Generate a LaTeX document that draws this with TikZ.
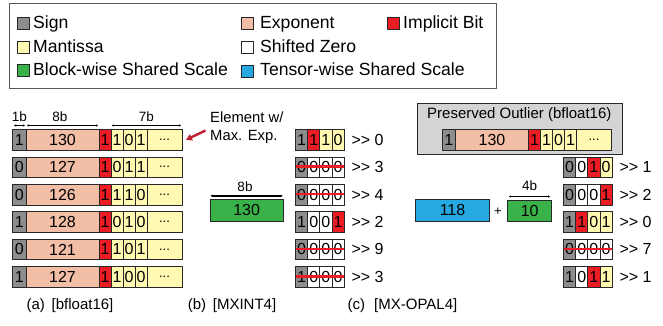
\documentclass[tikz,border=0pt]{standalone}
\usepackage{fontspec}
\setmainfont{Liberation Sans}
\usetikzlibrary{arrows.meta}
\definecolor{cSign}{RGB}{141,141,144}
\definecolor{cExp}{RGB}{243,190,166}
\definecolor{cImp}{RGB}{236,28,36}
\definecolor{cMan}{RGB}{255,249,178}
\definecolor{cGreen}{RGB}{58,178,74}
\definecolor{cBlue}{RGB}{38,168,224}
\definecolor{cOut}{RGB}{211,212,214}
\definecolor{cArrow}{RGB}{190,30,45}
\definecolor{cLine}{RGB}{40,38,38}
\newcommand\myfs[1]{\fontsize{#1}{#1}\selectfont}
\newcommand\gtgt{>\kern0pt>}
% full bfloat16 row: name, x, y, sign, exponent, m1, m2, m3
\newcommand\fprow[8]{%
  \node[cell,fill=cSign,minimum width=13.5pt] (#1-s) at (#2,#3) {#4};
  \node[cell,fill=cExp,minimum width=73pt] (#1-e) at ({#2+13.5},#3) {#5};
  \node[cell,fill=cImp,minimum width=12pt] (#1-i) at ({#2+86.5},#3) {1};
  \node[cell,fill=cMan,minimum width=12pt] (#1-m1) at ({#2+98.5},#3) {#6};
  \node[cell,fill=cMan,minimum width=12pt] (#1-m2) at ({#2+110.5},#3) {#7};
  \node[cell,fill=cMan,minimum width=12pt] (#1-m3) at ({#2+122.5},#3) {#8};
  \node[cell,fill=cMan,minimum width=35pt,font=\myfs{13}] (#1-d) at ({#2+134.5},#3) {...};
}
% 4-bit row: name, x, y, four colour/digit pairs, shift
\newcommand\qrow[8]{%
  \foreach \cl/\dg [count=\k from 0] in {#4,#5,#6,#7}{%
    \node[cell,fill=\cl,minimum width=12.15pt] (#1-\k) at ({#2+12.15*\k},#3) {\dg};}
  \node[shtxt] (#1-t) at ({#2+55.8},{#3+10.35}) {\gtgt\ #8};
}
\begin{document}
\begin{tikzpicture}[x=1pt,y=-1pt,
  cell/.style={draw=cLine,line width=0.7pt,inner sep=0pt,outer sep=0pt,minimum height=20.7pt,anchor=north west,font=\myfs{16}},
  lsq/.style={draw=cLine,line width=0.6pt,minimum width=11.5pt,minimum height=11.5pt,inner sep=0pt,anchor=north west},
  ltxt/.style={anchor=base west,inner sep=0pt,font=\myfs{17.6}},
  btxt/.style={anchor=base,inner sep=0pt,font=\myfs{13.5}},
  shtxt/.style={anchor=west,inner sep=0pt,font=\myfs{16}},
  captxt/.style={anchor=base,inner sep=0pt,font=\myfs{15}},
  brk/.style={line width=1.7pt,{Latex[length=2pt,width=2.4pt]}-{Latex[length=2pt,width=2.4pt]}},
  strike/.style={draw=cImp,line width=2.6pt},
]
\useasboundingbox (0,0) rectangle (663,326);

% ---------- legend ----------
\node[draw=black!65,line width=0.8pt,minimum width=487pt,minimum height=84.4pt,anchor=north west,inner sep=0pt] (legend) at (9,3.3) {};
\node[lsq,fill=cSign] (lsq1) at (17.3,17.3) {};
\node[ltxt] (lt1) at (33,28.3) {Sign};
\node[lsq,fill=cMan] (lsq2) at (17.3,41.3) {};
\node[ltxt] (lt2) at (33,52.8) {Mantissa};
\node[lsq,fill=cGreen] (lsq3) at (17.3,64.5) {};
\node[ltxt] (lt3) at (33,75.5) {Block-wise Shared Scale};
\node[lsq,fill=cExp] (lsq4) at (241,17.3) {};
\node[ltxt] (lt4) at (260,28.3) {Exponent};
\node[lsq,fill=white] (lsq5) at (241,41.3) {};
\node[ltxt] (lt5) at (260,52.8) {Shifted Zero};
\node[lsq,fill=cBlue] (lsq6) at (241,65.5) {};
\node[ltxt] (lt6) at (260,75.5) {Tensor-wise Shared Scale};
\node[lsq,fill=cImp] (lsq7) at (387.3,17.3) {};
\node[ltxt] (lt7) at (403,28.3) {Implicit Bit};

% ---------- (a) bfloat16 ----------
\fprow{a1}{12.5}{129.5}{1}{130}{1}{0}{1}
\fprow{a2}{12.5}{156.9}{0}{127}{0}{1}{1}
\fprow{a3}{12.5}{184.3}{0}{126}{1}{1}{0}
\fprow{a4}{12.5}{211.7}{1}{128}{0}{1}{0}
\fprow{a5}{12.5}{239.1}{0}{121}{1}{0}{1}
\fprow{a6}{12.5}{266.5}{1}{127}{1}{0}{0}
\draw[brk] ([xshift=1.5pt,yshift=4pt]a1-s.north west) -- ([xshift=-1pt,yshift=4pt]a1-s.north east);
\draw[brk] ([xshift=1pt,yshift=4pt]a1-e.north west) -- ([xshift=-1pt,yshift=4pt]a1-e.north east);
\draw[brk] ([xshift=0.7pt,yshift=4pt]a1-m1.north west) -- ([xshift=-1pt,yshift=4pt]a1-d.north east);
\node[btxt] (l1b) at (19.5,121.5) {1b};
\node[btxt] (l8b) at (60,121.5) {8b};
\node[btxt] (l7b) at (146.5,121.5) {7b};
\node[anchor=base west,inner sep=0pt,font=\myfs{14.8}] (el1) at (210,122) {Element w/};
\node[anchor=base west,inner sep=0pt,font=\myfs{14.8}] (el2) at (210,140) {Max. Exp.};
\coordinate (arrtail) at (205.5,130.5);
\draw[cArrow,line width=2.4pt,-{Triangle[length=6pt,width=6.5pt]}] (arrtail) -- ([xshift=4pt]a1-d.east);

% ---------- (b) MXINT4 ----------
\node[btxt] (lb8b) at (245,191) {8b};
\node[cell,fill=cGreen,minimum width=73.3pt,minimum height=21.7pt] (bscale) at (210,199.3) {130};
\draw[brk] ([xshift=0.5pt,yshift=3.5pt]bscale.north west) -- ([xshift=-0.5pt,yshift=3.5pt]bscale.north east);
\qrow{b1}{295.5}{129.5}{cSign/1}{cImp/1}{cMan/1}{cMan/0}{0}
\qrow{b2}{295.5}{156.9}{cSign/0}{white/0}{white/0}{white/0}{3}
\qrow{b3}{295.5}{184.3}{cSign/0}{white/0}{white/0}{white/0}{4}
\qrow{b4}{295.5}{211.7}{cSign/1}{white/0}{white/0}{cImp/1}{2}
\qrow{b5}{295.5}{239.1}{cSign/0}{white/0}{white/0}{white/0}{9}
\qrow{b6}{295.5}{266.5}{cSign/1}{white/0}{white/0}{white/0}{3}
\foreach \r in {b2,b3,b5,b6}{
  \draw[strike] ([xshift=0.8pt,yshift=0.5pt]\r-0.west) -- ([yshift=0.5pt]\r-3.east);}

% ---------- (c) MX-OPAL4 ----------
\node[draw=cLine,fill=cOut,line width=0.7pt,minimum width=204.7pt,minimum height=50.7pt,anchor=north west,inner sep=0pt] (obox) at (417.3,103.3) {};
\node[anchor=base,inner sep=0pt,font=\myfs{15}] (otitle) at (519.3,118.3) {Preserved Outlier (bfloat16)};
\fprow{c1}{442}{129.5}{1}{130}{1}{0}{1}
\node[btxt] (lc4b) at (529.5,190.5) {4b};
\node[cell,fill=cGreen,minimum width=44pt,minimum height=21.4pt] (cscale) at (507.7,200.3) {10};
\draw[brk] ([xshift=1pt,yshift=3.8pt]cscale.north west) -- ([xshift=-1.5pt,yshift=3.8pt]cscale.north east);
\node[cell,fill=cBlue,minimum width=73.6pt,minimum height=22pt] (tscale) at (415.7,199) {118};
\node[inner sep=0pt,font=\myfs{13}] (plus) at (498,211.5) {+};
\qrow{c2}{563.5}{156.9}{cSign/0}{white/0}{cImp/1}{cMan/0}{1}
\qrow{c3}{563.5}{184.3}{cSign/0}{white/0}{white/0}{cImp/1}{2}
\qrow{c4}{563.5}{211.7}{cSign/1}{cImp/1}{cMan/0}{cMan/1}{0}
\qrow{c5}{563.5}{239.1}{cSign/0}{white/0}{white/0}{white/0}{7}
\qrow{c6}{563.5}{266.5}{cSign/1}{white/0}{cImp/1}{cMan/1}{1}
\draw[strike] ([xshift=0.8pt,yshift=0.5pt]c5-0.west) -- ([yshift=0.5pt]c5-3.east);

% ---------- captions ----------
\node[captxt] (capa) at (70,309.5) {(a)\hspace{0.45em}[bfloat16]};
\node[captxt] (capb) at (232,309.5) {(b)\hspace{0.45em}[MXINT4]};
\node[captxt] (capc) at (402.5,309.5) {(c)\hspace{0.6em}[MX-OPAL4]};
\end{tikzpicture}
\end{document}
